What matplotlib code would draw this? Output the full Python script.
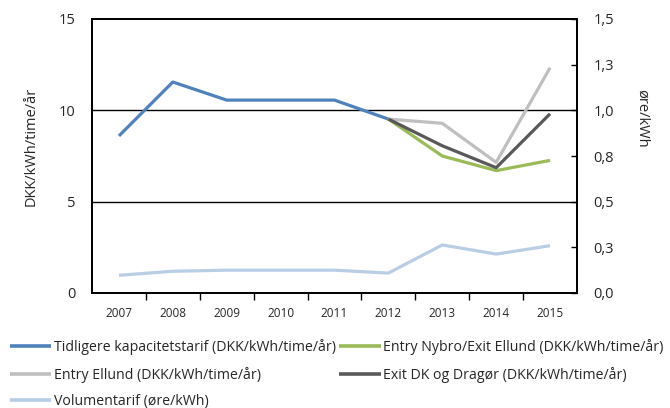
import matplotlib
matplotlib.use("Agg")
import matplotlib.pyplot as plt
from matplotlib.ticker import FixedLocator, NullFormatter

plt.rcParams['font.family'] = ['Open Sans', 'DejaVu Sans']

years = ['2007', '2008', '2009', '2010', '2011', '2012', '2013', '2014', '2015']
tidligere = [8.6, 11.55, 10.56, 10.56, 10.56, 9.52, None, None, None]
nybro = [None, None, None, None, None, 9.52, 7.5, 6.7, 7.26]
ellund = [None, None, None, None, None, 9.52, 9.29, 7.15, 12.33]
exit_dk = [None, None, None, None, None, 9.52, 8.06, 6.86, 9.81]
volumen = [0.097, 0.119, 0.125, 0.125, 0.125, 0.109, 0.263, 0.213, 0.259]

left_ticks = [0, 5, 10, 15]
right_ticks = [0, 0.25, 0.5, 0.75, 1.0, 1.25, 1.5]
right_labels = ['0,0', '0,3', '0,5', '0,8', '1,0', '1,3', '1,5']

def seg(vals):
    xs = [i for i, v in enumerate(vals) if v is not None]
    ys = [v for v in vals if v is not None]
    return xs, ys

W, H = 670, 408
fig = plt.figure(figsize=(W / 100, H / 100), dpi=100)
ax = fig.add_axes([92 / W, 1 - 293 / H, (577 - 92) / W, (293 - 19) / H])
ax2 = ax.twinx()

lw = 2.3
c_blue = '#4F81BD'
c_green = '#9BBB59'
c_lgray = '#BFBFBF'
c_dgray = '#595959'
c_lblue = '#B9CDE5'
txt = '#262626'

h5, = ax2.plot(*seg(volumen), color=c_lblue, lw=lw, solid_capstyle='butt', zorder=3)
h1, = ax.plot(*seg(tidligere), color=c_blue, lw=lw, solid_capstyle='butt', zorder=3)
h3, = ax.plot(*seg(ellund), color=c_lgray, lw=lw, solid_capstyle='butt', zorder=3)
h2, = ax.plot(*seg(nybro), color=c_green, lw=lw, solid_capstyle='butt', zorder=3)
h4, = ax.plot(*seg(exit_dk), color=c_dgray, lw=lw, solid_capstyle='butt', zorder=3)

ax.set_xlim(-0.5, len(years) - 0.5)
ax.set_ylim(0, 15)
ax2.set_ylim(0, 1.5)
ax.set_yticks(left_ticks)
ax.set_yticklabels([str(t) for t in left_ticks], fontsize=10.5)
ax2.set_yticks(right_ticks)
ax2.set_yticklabels(right_labels, fontsize=10.5)
ax.tick_params(axis='y', length=0, pad=12, colors=txt)
ax2.tick_params(axis='y', direction='in', length=4, width=1, pad=12, colors=txt)
ax2.tick_params(axis='y', color='black')

ax.set_xticks(range(len(years)))
ax.set_xticklabels(years, fontsize=8.5)
ax.xaxis.set_minor_locator(FixedLocator([i + 0.5 for i in range(len(years) - 1)]))
ax.xaxis.set_minor_formatter(NullFormatter())
ax.tick_params(axis='x', which='major', length=0, pad=10, colors=txt)
ax.tick_params(axis='x', which='minor', length=5, width=1, color='black')

for y in [5, 10]:
    ax.axhline(y, color='black', lw=1, zorder=1)

for a in (ax, ax2):
    for s in a.spines.values():
        s.set_color('black')
        s.set_linewidth(1.3)

fig.text(31.5 / W, 1 - 146 / H, 'DKK/kWh/time/år', fontsize=10.5, color=txt,
         rotation=90, ha='center', va='center')
fig.text(642 / W, 1 - 118 / H, 'øre/kWh', fontsize=10.5, color=txt,
         rotation=-90, ha='center', va='center')

leg = fig.legend([h1, h3, h5, h2, h4],
                 ['Tidligere kapacitetstarif (DKK/kWh/time/år)',
                  'Entry Ellund (DKK/kWh/time/år)',
                  'Volumentarif (øre/kWh)',
                  'Entry Nybro/Exit Ellund (DKK/kWh/time/år)',
                  'Exit DK og Dragør (DKK/kWh/time/år)'],
                 ncol=2, loc='upper left', bbox_to_anchor=(10 / W, 1 - 339 / H),
                 frameon=False, fontsize=10.2, handlelength=2.9, handletextpad=0.2,
                 columnspacing=0.25, labelspacing=0.82, borderaxespad=0, borderpad=0)
for t in leg.get_texts():
    t.set_color(txt)
for l in leg.get_lines():
    l.set_linewidth(2.6)

fig.savefig('out.png', dpi=100)
